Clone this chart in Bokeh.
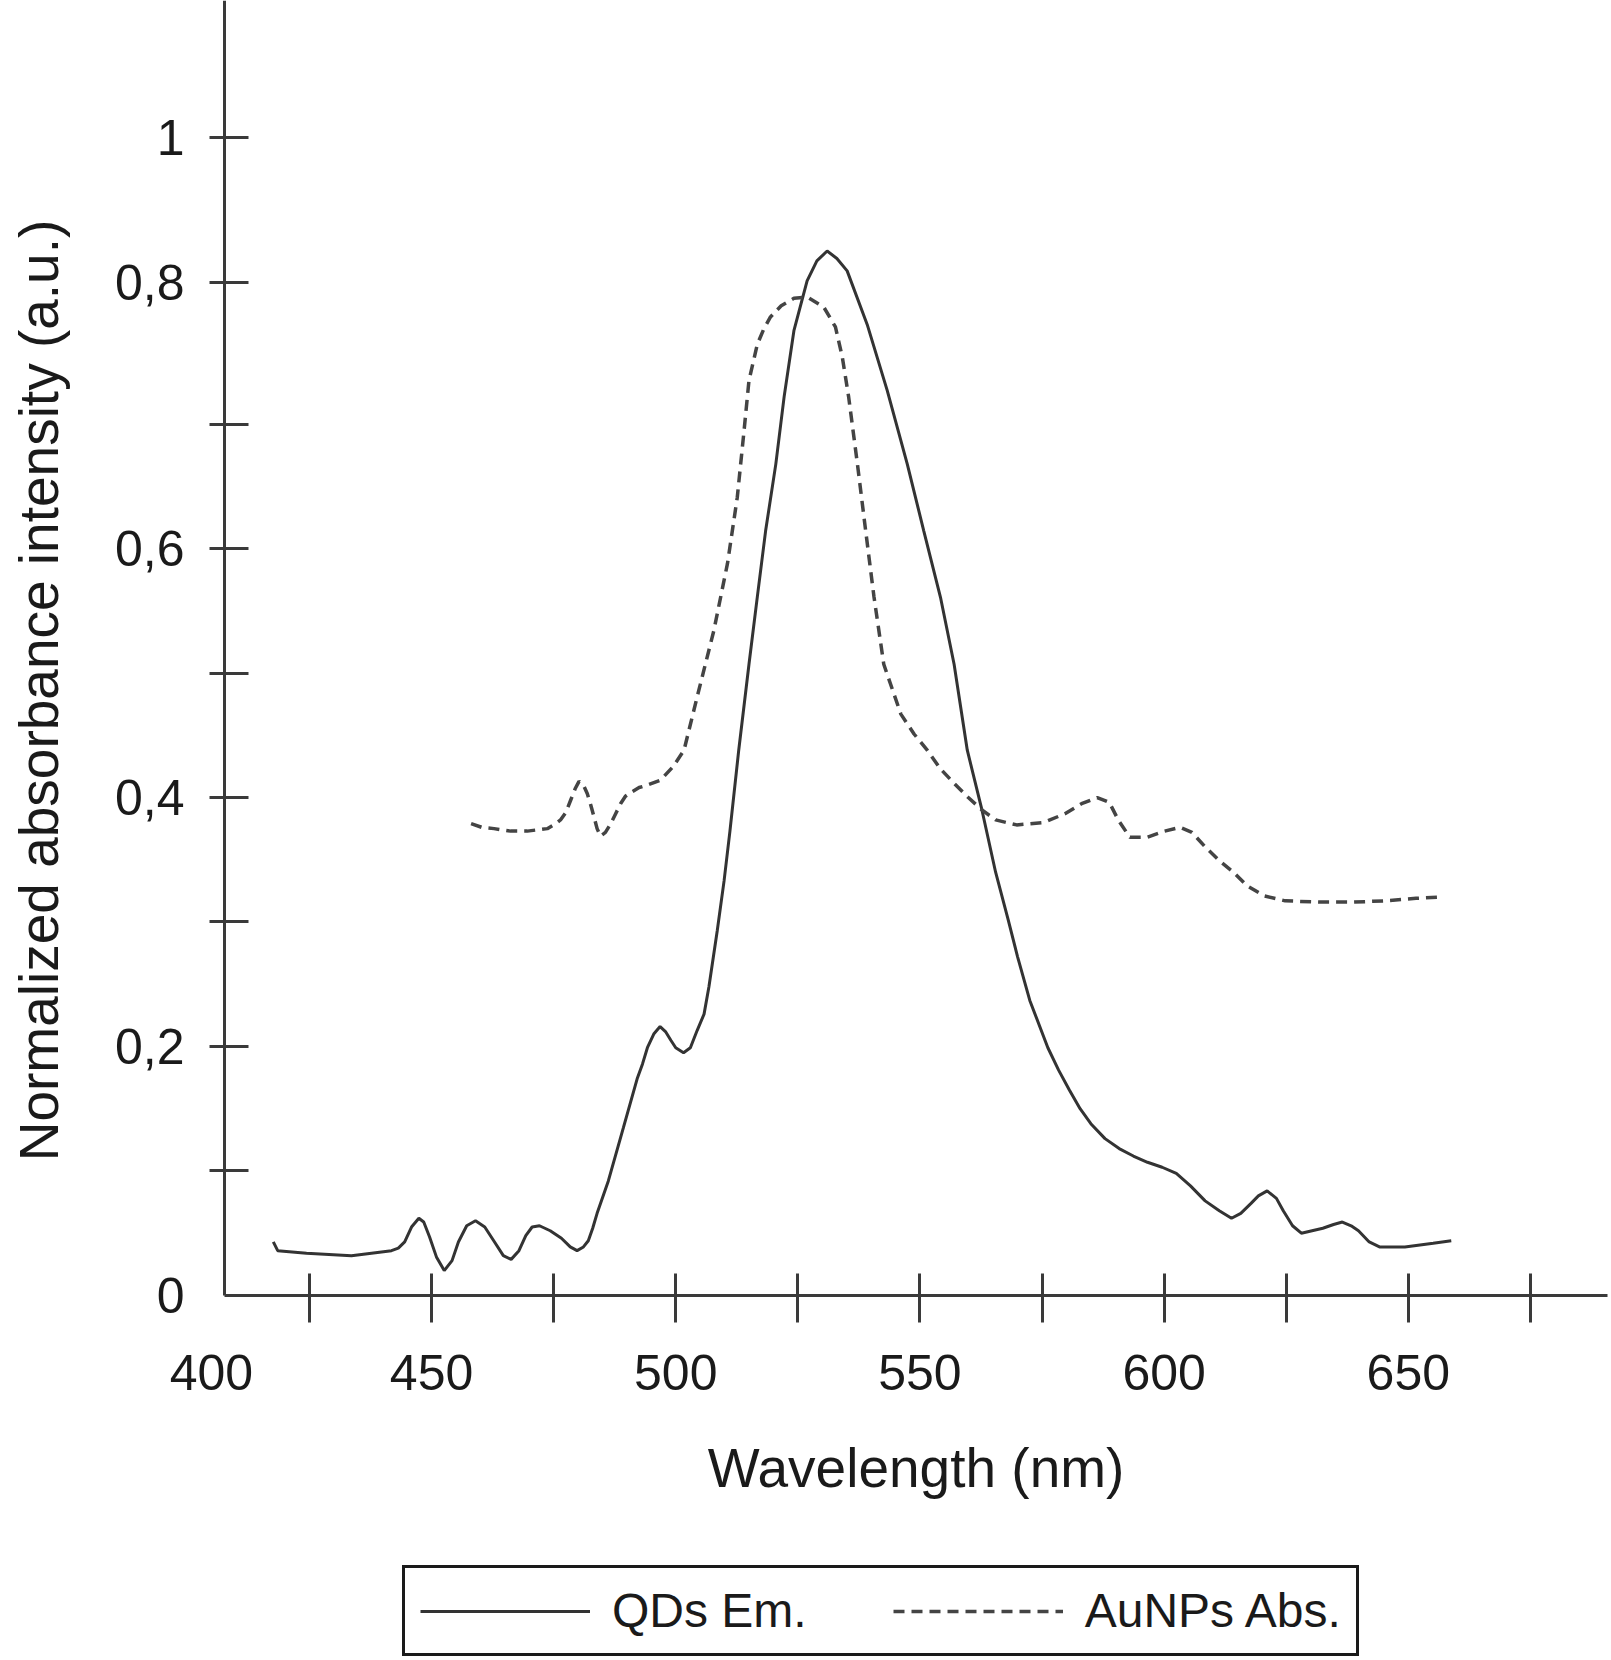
import math

from bokeh.plotting import figure
from bokeh.models import Range1d, FixedTicker, Legend, LegendItem, Label
from bokeh.embed import file_html
from bokeh.resources import INLINE

# QDs emission (solid line)
qd_nm = [417.6, 418.5, 424.4, 433.6, 441.8, 443.2, 444.5, 445.9, 447.4, 448.4,
         449.6, 451.0, 452.6, 454.2, 455.5, 457.2, 459.0, 460.9, 462.9, 464.7,
         466.3, 467.9, 469.3, 470.6, 472.1, 474.3, 476.6, 478.4, 479.8, 481.1,
         482.1, 483.0, 483.9, 486.2, 489.3, 492.1, 493.2, 494.2, 495.5, 496.8,
         497.9, 499.0, 500.0, 501.6, 503.0, 504.4, 505.8, 506.8, 508.5, 509.9,
         511.1, 512.9, 515.0, 516.7, 518.4, 520.5, 522.2, 524.2, 526.9, 528.9,
         531.0, 533.0, 535.1, 539.2, 543.3, 547.4, 550.8, 554.2, 557.0, 559.7,
         562.7, 565.5, 568.0, 570.0, 572.5, 576.2, 578.4, 580.6, 582.8, 585.0,
         587.9, 590.8, 593.7, 596.6, 599.6, 602.5, 605.4, 608.4, 611.3, 613.8,
         615.7, 617.8, 619.3, 621.1, 623.0, 624.4, 626.3, 628.1, 630.3, 632.5,
         634.7, 636.5, 638.3, 639.8, 642.0, 644.1, 649.3, 655.1, 658.8]
qd_em = [0.043, 0.036, 0.034, 0.032, 0.036, 0.038, 0.043, 0.055, 0.062, 0.059,
         0.047, 0.031, 0.020, 0.028, 0.043, 0.056, 0.060, 0.055, 0.043, 0.032,
         0.029, 0.036, 0.048, 0.055, 0.056, 0.052, 0.046, 0.039, 0.036, 0.039,
         0.044, 0.054, 0.066, 0.092, 0.135, 0.174, 0.186, 0.199, 0.210, 0.216,
         0.212, 0.205, 0.199, 0.195, 0.199, 0.213, 0.226, 0.248, 0.293, 0.333,
         0.373, 0.438, 0.507, 0.561, 0.614, 0.668, 0.722, 0.775, 0.815, 0.831,
         0.839, 0.833, 0.823, 0.780, 0.727, 0.668, 0.614, 0.561, 0.507, 0.438,
         0.390, 0.340, 0.303, 0.272, 0.237, 0.199, 0.181, 0.165, 0.150, 0.138,
         0.126, 0.118, 0.112, 0.107, 0.103, 0.098, 0.088, 0.076, 0.068, 0.062,
         0.066, 0.074, 0.080, 0.084, 0.078, 0.068, 0.056, 0.050, 0.052, 0.054,
         0.057, 0.059, 0.056, 0.052, 0.043, 0.039, 0.039, 0.042, 0.044]

# AuNPs absorbance (dashed line)
au_nm = [458.1, 460.3, 462.8, 466.2, 469.6, 473.7, 475.4, 476.4, 477.5, 478.5,
         479.4, 480.2, 481.1, 481.9, 482.6, 483.3, 483.9, 484.6, 485.6, 486.7,
         487.7, 488.7, 489.7, 490.8, 492.5, 494.2, 496.9, 499.5, 501.7, 504.4,
         507.8, 510.6, 512.6, 514.0, 515.0, 516.7, 518.0, 519.4, 521.6, 524.2,
         526.9, 530.3, 532.7, 534.1, 535.4, 537.2, 538.9, 540.6, 542.6, 546.1,
         548.8, 551.5, 554.2, 557.1, 559.9, 562.7, 565.5, 569.8, 575.4, 579.7,
         583.1, 586.3, 588.8, 590.6, 593.0, 596.5, 600.1, 603.3, 605.7, 608.5,
         611.4, 614.2, 617.0, 620.5, 624.8, 631.8, 638.9, 645.2, 651.6, 656.8]
au_abs = [0.379, 0.376, 0.375, 0.373, 0.373, 0.375, 0.379, 0.382, 0.388, 0.398,
          0.407, 0.413, 0.410, 0.403, 0.394, 0.384, 0.375, 0.369, 0.372, 0.379,
          0.387, 0.395, 0.401, 0.404, 0.408, 0.410, 0.414, 0.425, 0.438, 0.481,
          0.534, 0.588, 0.641, 0.695, 0.735, 0.764, 0.776, 0.786, 0.795, 0.801,
          0.802, 0.794, 0.778, 0.754, 0.722, 0.668, 0.614, 0.561, 0.507, 0.467,
          0.451, 0.438, 0.423, 0.411, 0.400, 0.390, 0.382, 0.378, 0.380, 0.387,
          0.395, 0.400, 0.396, 0.382, 0.368, 0.368, 0.373, 0.376, 0.372, 0.360,
          0.349, 0.340, 0.329, 0.321, 0.317, 0.316, 0.316, 0.317, 0.319, 0.320]

# axis ticks as drawn in the original figure
x_ticks = [425, 450, 475, 500, 525, 550, 575, 600, 625, 650, 675]
x_tick_labels = ["", "450", "", "500", "", "550", "", "600", "", "650", ""]
y_ticks = [0.1, 0.2, 0.3, 0.4, 0.5, 0.6, 0.7, 0.814, 0.93]
y_tick_labels = ["", "0,2", "", "0,4", "", "0,6", "", "0,8", "1"]

# where the two axes meet, and how far they run
X0, X1 = 407.6, 690.8
Y0, Y1 = 0, 1.0402

FONT = "Liberation Sans"
INK = "#1a1a1a"
AXIS = "#3a3a3a"
W, H = 1609, 1658

# the frame fills the whole figure; the axes are pinned at the origin
p = figure(width=W, height=H,
           x_range=Range1d(361.74, 691.2), y_range=Range1d(-0.2916, Y1),
           output_backend="svg", toolbar_location=None,
           min_border_left=0, min_border_right=0,
           min_border_top=0, min_border_bottom=0)
p.grid.visible = False
p.outline_line_color = None
p.background_fill_color = "white"

r_qd = p.line(qd_nm, qd_em, line_color="#333333", line_width=3)
r_au = p.line(au_nm, au_abs, line_color="#444444", line_width=3.5, line_dash="11 7")

for ax in (p.xaxis[0], p.yaxis[0]):
    ax.axis_line_width = 3
    ax.axis_line_color = AXIS
    ax.major_tick_line_width = 3
    ax.major_tick_line_color = AXIS
    ax.minor_tick_line_color = None
    ax.major_label_text_font = FONT
    ax.major_label_text_font_size = "50px"
    ax.major_label_text_color = INK
    ax.axis_label_text_font = FONT
    ax.axis_label_text_font_size = "55px"
    ax.axis_label_text_font_style = "normal"
    ax.axis_label_text_color = INK

xa = p.xaxis[0]
xa.fixed_location = Y0
xa.bounds = (X0, X1)
xa.ticker = FixedTicker(ticks=x_ticks)
xa.major_label_overrides = dict(zip(x_ticks, x_tick_labels))
xa.major_tick_in = 22
xa.major_tick_out = 27
xa.major_label_standoff = 33
xa.axis_label = "Wavelength (nm)"
xa.axis_label_standoff = 43

ya = p.yaxis[0]
ya.fixed_location = X0
ya.bounds = (Y0, Y1)
ya.ticker = FixedTicker(ticks=y_ticks)
ya.major_label_overrides = dict(zip(y_ticks, y_tick_labels))
ya.major_tick_in = 24
ya.major_tick_out = 15
ya.major_label_standoff = 25

# the y title sits lower than the axis centre in the original
p.add_layout(Label(x=38, y=H - 690, x_units="screen", y_units="screen",
                   text="Normalized absorbance intensity (a.u.)",
                   angle=math.pi / 2, text_align="center", text_baseline="alphabetic",
                   text_font=FONT, text_font_size="55px", text_color=INK))

# "0" and "400" sit at the corner of the axes in the original, with no tick
p.add_layout(Label(x=X0, y=Y0, text="0", x_offset=-40, y_offset=0,
                   text_align="right", text_baseline="middle",
                   text_font=FONT, text_font_size="50px", text_color=INK))
p.add_layout(Label(x=X0, y=Y0, text="400", x_offset=-13, y_offset=-60,
                   text_align="center", text_baseline="top",
                   text_font=FONT, text_font_size="50px", text_color=INK))

legend = Legend(items=[LegendItem(label="QDs Em.", renderers=[r_qd]),
                       LegendItem(label="AuNPs Abs.", renderers=[r_au])],
                orientation="horizontal", location=(402, 2),
                border_line_color=INK, border_line_width=3, border_line_alpha=1,
                background_fill_color="white", background_fill_alpha=1,
                padding=15, spacing=86, margin=0,
                glyph_width=170, glyph_height=20, label_standoff=22,
                label_text_font=FONT, label_text_font_size="48px",
                label_text_color=INK)
p.add_layout(legend)

open("out.html", "w").write(file_html(p, INLINE))
